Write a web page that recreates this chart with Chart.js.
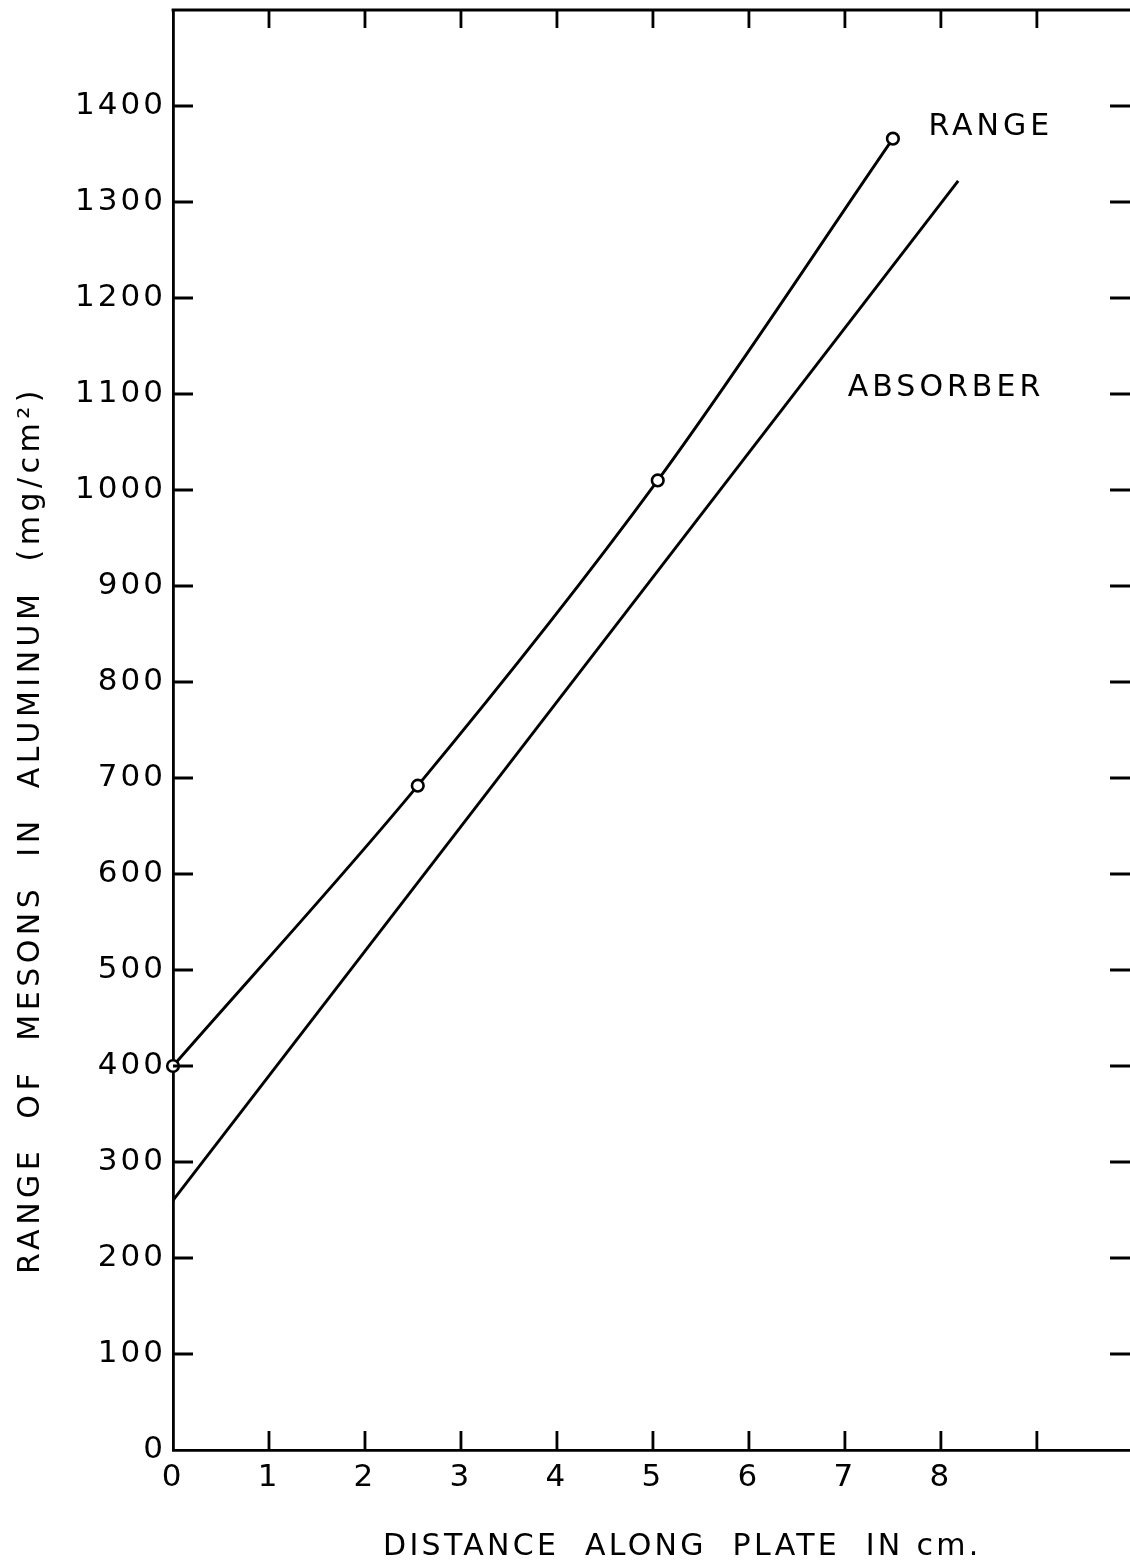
<!DOCTYPE html>
<html><head><meta charset="utf-8">
<script src="https://cdn.jsdelivr.net/npm/chart.js@4"></script>
<style>html,body{margin:0;padding:0;background:#fff}canvas{display:block}</style>
</head><body>
<canvas id="c" width="1130" height="1565"></canvas>
<script>
// ---- data ----
const rangeX = [0, 2.55, 5.05, 7.5];
const rangeY = [400, 692, 1010, 1366];
const absorberX = [0, 8.18];
const absorberY = [260, 1322];
const seriesNames = ['RANGE', 'ABSORBER'];
const xTickValues = [0, 1, 2, 3, 4, 5, 6, 7, 8, 9];
const xTickLabels = ['0', '1', '2', '3', '4', '5', '6', '7', '8', ''];
const yTickValues = [0, 100, 200, 300, 400, 500, 600, 700, 800, 900, 1000, 1100, 1200, 1300, 1400, 1500];
const yTickLabels = ['0', '100', '200', '300', '400', '500', '600', '700', '800', '900', '1000', '1100', '1200', '1300', '1400', ''];
const xTitle = 'DISTANCE  ALONG  PLATE  IN cm.';
const yTitle = 'RANGE  OF  MESONS  IN  ALUMINUM  (mg/cm\u00B2)';

// ---- drawing ----
const FONT = '"DejaVu Sans", "Liberation Sans", sans-serif';
const toPts = (xs, ys) => xs.map((v, i) => ({x: v, y: ys[i]}));

const decor = {
  id: 'decor',
  beforeDraw(chart) { chart.ctx.letterSpacing = '3px'; },
  afterDraw(chart) {
    const {ctx, chartArea: a, scales: {x, y}} = chart;
    ctx.save();
    ctx.strokeStyle = '#000';
    ctx.lineWidth = 2.8;
    ctx.beginPath();
    ctx.moveTo(a.left - 1.4, a.top);
    ctx.lineTo(a.right, a.top);
    xTickValues.forEach(v => {
      if (v === 0) return;
      const px = x.getPixelForValue(v);
      ctx.moveTo(px, a.top); ctx.lineTo(px, a.top + 18);
      ctx.moveTo(px, a.bottom); ctx.lineTo(px, a.bottom - 19);
    });
    yTickValues.forEach(v => {
      if (v === 0 || v >= 1500) return;
      const py = y.getPixelForValue(v);
      ctx.moveTo(a.left, py); ctx.lineTo(a.left + 20, py);
      ctx.moveTo(a.right - 20, py); ctx.lineTo(a.right, py);
    });
    ctx.stroke();

    ctx.fillStyle = '#000';
    ctx.font = '30px ' + FONT;
    ctx.letterSpacing = '4px';
    ctx.textAlign = 'left';
    ctx.textBaseline = 'middle';
    ctx.fillText(seriesNames[0], x.getPixelForValue(7.87), y.getPixelForValue(1378));
    ctx.fillText(seriesNames[1], x.getPixelForValue(7.03), y.getPixelForValue(1106));

    ctx.textBaseline = 'alphabetic';
    ctx.letterSpacing = '3.3px';
    ctx.fillText(xTitle, 383, 1555);

    ctx.letterSpacing = '4.5px';
    ctx.translate(39, 830);
    ctx.rotate(-Math.PI / 2);
    ctx.textAlign = 'center';
    ctx.fillText(yTitle, 0, 0);
    ctx.restore();
  }
};

new Chart(document.getElementById('c'), {
  type: 'scatter',
  data: {
    datasets: [
      {
        label: seriesNames[0],
        data: toPts(rangeX, rangeY),
        showLine: true,
        cubicInterpolationMode: 'monotone',
        borderColor: '#000',
        borderWidth: 2.9,
        pointRadius: 5.8,
        pointBorderWidth: 2.6,
        pointBackgroundColor: '#fff',
        pointBorderColor: '#000',
        clip: false
      },
      {
        label: seriesNames[1],
        data: toPts(absorberX, absorberY),
        showLine: true,
        borderColor: '#000',
        borderWidth: 2.9,
        pointRadius: 0,
        clip: false
      }
    ]
  },
  options: {
    responsive: false,
    animation: false,
    devicePixelRatio: 1,
    layout: {autoPadding: false, padding: {top: 10, left: 0, right: 0, bottom: 0}},
    plugins: {legend: {display: false}, tooltip: {enabled: false}},
    scales: {
      x: {
        type: 'linear', min: 0, max: 9.97,
        grid: {display: false, drawTicks: false},
        border: {display: true, color: '#000', width: 2.8},
        ticks: {
          stepSize: 1, includeBounds: false, autoSkip: false, maxRotation: 0, padding: 9,
          color: '#000', font: {family: FONT, size: 31},
          callback: v => { const i = xTickValues.indexOf(v); return i >= 0 ? xTickLabels[i] : ''; }
        },
        afterFit: s => { s.height = 115; s.paddingLeft = 0; s.paddingRight = 0; }
      },
      y: {
        type: 'linear', min: 0, max: 1500,
        grid: {display: false, drawTicks: false},
        border: {display: true, color: '#000', width: 2.8},
        ticks: {
          stepSize: 100, includeBounds: false, autoSkip: false, padding: 7,
          color: '#000', font: {family: FONT, size: 31},
          callback: v => { const i = yTickValues.indexOf(v); return i >= 0 ? yTickLabels[i] : ''; }
        },
        afterFit: s => { s.width = 173; s.paddingTop = 0; s.paddingBottom = 0; }
      }
    }
  },
  plugins: [decor]
});
</script>
</body></html>
